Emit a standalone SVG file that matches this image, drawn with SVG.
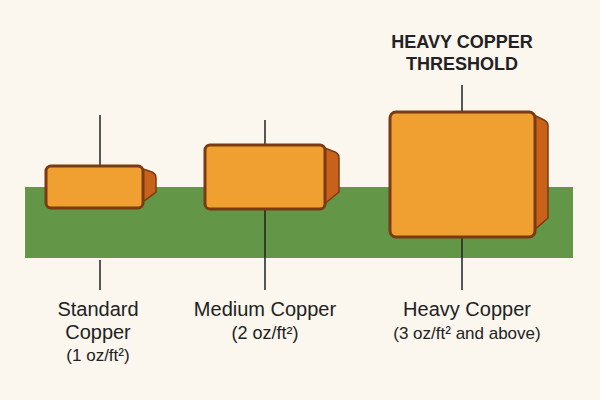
<svg xmlns="http://www.w3.org/2000/svg" width="600" height="400" viewBox="0 0 600 400">
<style>
.blk{fill:#f0a030;stroke:#7a3b12;stroke-width:3}
.side{fill:#c8621a;stroke:#7a3b12;stroke-width:1.5}
.ln{stroke:#222;stroke-width:1.5}
.t{font-family:"Liberation Sans",Arial,sans-serif;fill:#222;text-anchor:middle}
</style>
<rect width="600" height="400" fill="#fbf6ee"/>
<rect x="25" y="187" width="548" height="71" fill="#649648"/>
<g id="connectors">
<line class="ln" x1="100" y1="115" x2="100" y2="165"/>
<line class="ln" x1="100" y1="260" x2="100" y2="290"/>
<line class="ln" x1="265" y1="120" x2="265" y2="144"/>
<line class="ln" x1="265" y1="210" x2="265" y2="290"/>
<line class="ln" x1="462" y1="85" x2="462" y2="111"/>
<line class="ln" x1="462" y1="238" x2="462" y2="290"/>
</g>
<g id="standard">
<path class="side" d="M140,168 L152,172 Q156,174 156,178 L156,192 L140,204 Z"/>
<rect class="blk" x="46" y="166" width="97" height="42" rx="5"/>
<text class="t" x="98" y="316" font-size="20">Standard</text>
<text class="t" x="98" y="339" font-size="20">Copper</text>
<text class="t" x="98" y="361" font-size="17">(1 oz/ft²)</text>
</g>
<g id="medium">
<path class="side" d="M322,147 L335,152 Q339,154 339,158 L339,192 L322,206 Z"/>
<rect class="blk" x="205" y="145" width="120" height="64" rx="5"/>
<text class="t" x="265" y="316" font-size="20">Medium Copper</text>
<text class="t" x="265" y="339" font-size="18">(2 oz/ft²)</text>
</g>
<g id="heavy">
<path class="side" d="M532,114 L544,120 Q548,122 548,126 L548,218 L532,232 Z"/>
<rect class="blk" x="390" y="112" width="145" height="125" rx="6"/>
<text class="t" x="462" y="48" font-size="18" font-weight="bold">HEAVY COPPER</text>
<text class="t" x="462" y="70" font-size="18" font-weight="bold">THRESHOLD</text>
<text class="t" x="467" y="316" font-size="20">Heavy Copper</text>
<text class="t" x="467" y="339" font-size="17">(3 oz/ft² and above)</text>
</g>
</svg>
